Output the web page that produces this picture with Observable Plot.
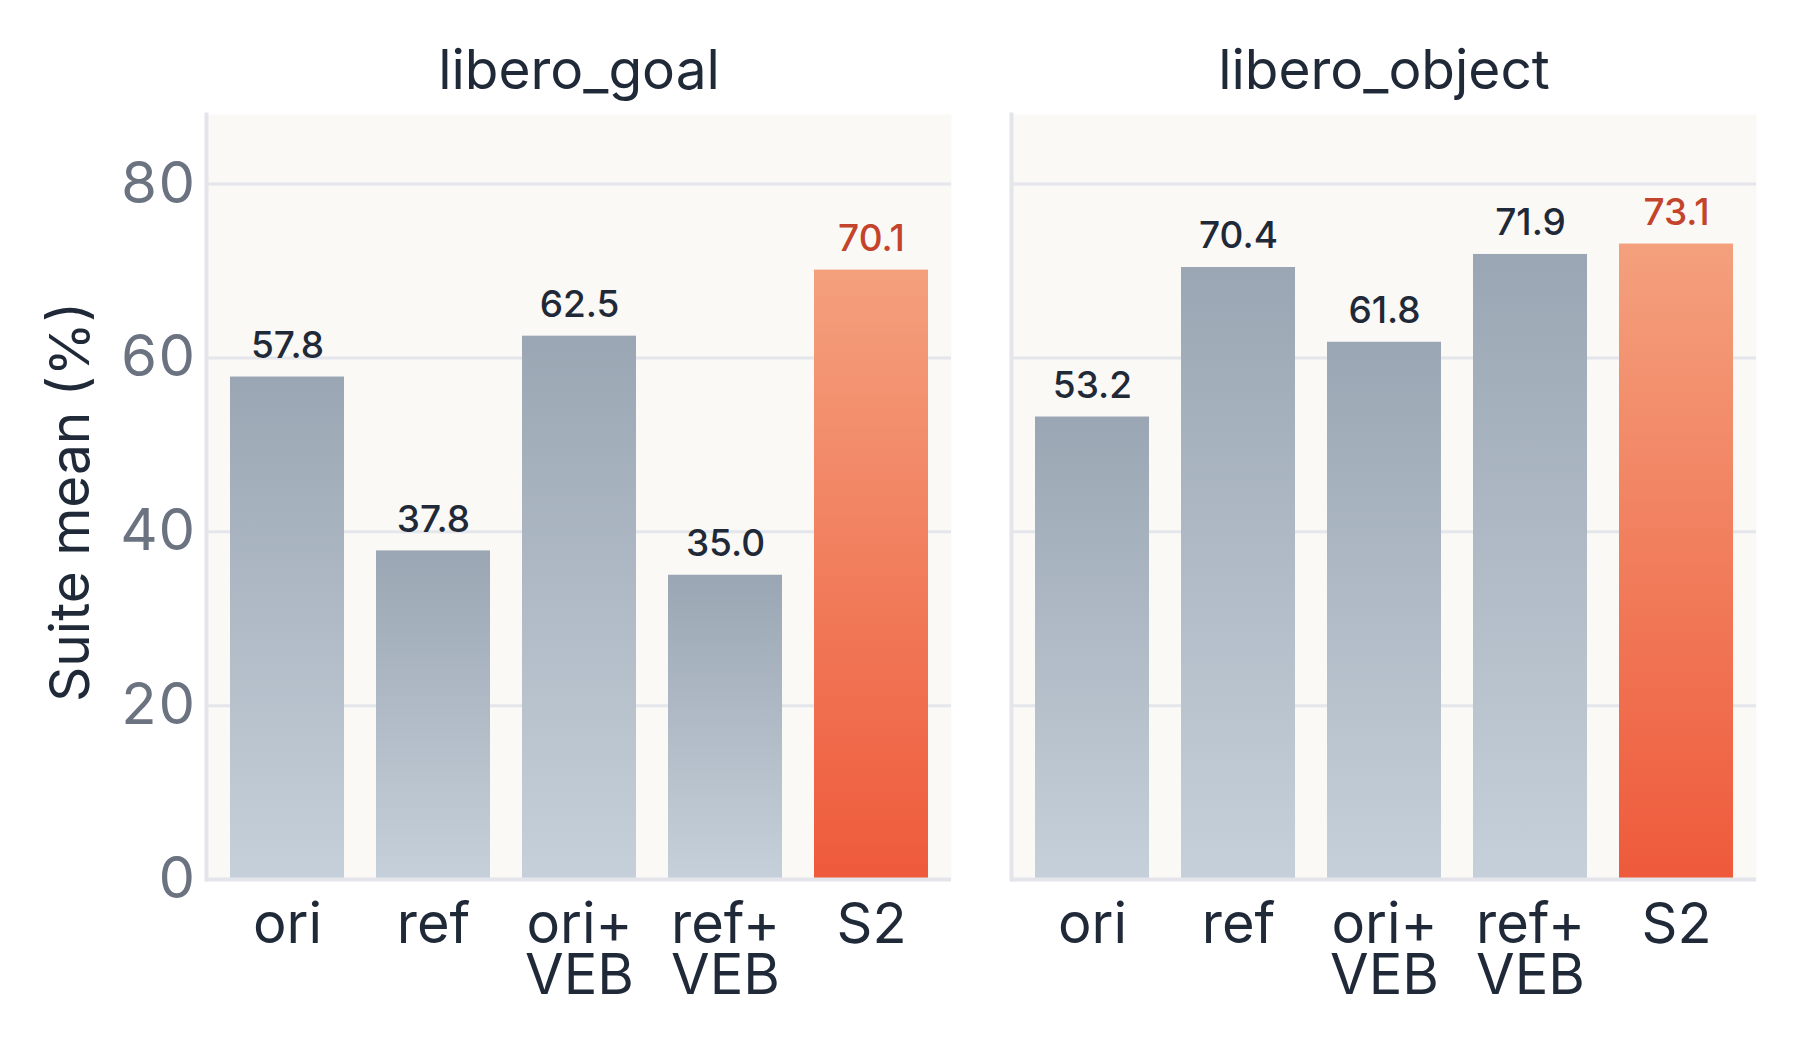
<!DOCTYPE html>
<html>
<head>
<meta charset="utf-8">
<script src="https://cdn.jsdelivr.net/npm/d3@7"></script>
<script src="https://cdn.jsdelivr.net/npm/@observablehq/plot@0.6"></script>
<style>
  html, body { margin: 0; padding: 0; background: #ffffff; }
  #chart svg { display: block; }
</style>
</head>
<body>
<div id="chart"></div>
<script>
const suites = ["libero_goal", "libero_object"];
const methods = ["ori", "ref", "ori+VEB", "ref+VEB", "S2"];
const methodLabels = ["ori", "ref", "ori+\nVEB", "ref+\nVEB", "S2"];
const goalValues = [57.8, 37.8, 62.5, 35.0, 70.1];
const objectValues = [53.2, 70.4, 61.8, 71.9, 73.1];
const yTicks = [0, 20, 40, 60, 80];
const highlight = "S2";

const seriesBySuite = [goalValues, objectValues];
const data = suites.flatMap((s, i) =>
  methods.map((m, j) => ({suite: s, method: m, value: seriesBySuite[i][j]}))
);
const labelOf = new Map(methods.map((m, i) => [m, methodLabels[i]]));

const font = "Inter, 'Noto Sans', sans-serif";

const chart = Plot.plot({
  width: 1800,
  height: 1049,
  marginLeft: 205,
  marginRight: 43,
  marginTop: 114,
  marginBottom: 170,
  style: {fontFamily: font, background: "#ffffff", overflow: "visible"},
  fx: {domain: suites, paddingInner: 0.074, paddingOuter: 0, axis: null},
  x: {domain: methods, paddingInner: 0.22, paddingOuter: 0.15, axis: null},
  y: {domain: [0, 88], axis: null},
  color: {type: "identity"},
  marks: [
    Plot.frame({fill: "#faf9f6", stroke: null}),
    Plot.gridY(yTicks, {stroke: "#e4e6ec", strokeWidth: 3, strokeOpacity: 1}),
    Plot.barY(data, {
      fx: "suite", x: "method", y: "value",
      fill: d => d.method === highlight ? "url(#barOrange)" : "url(#barGray)"
    }),
    Plot.frame({anchor: "left", stroke: "#e3e5eb", strokeWidth: 4}),
    Plot.ruleY([0], {stroke: "#e3e5eb", strokeWidth: 4}),
    Plot.axisY({
      ticks: yTicks, tickSize: 0, tickPadding: 11, fontSize: 58,
      color: "#6b7280", label: null, fontFamily: font
    }),
    Plot.axisX({
      anchor: "bottom", tickSize: 0, tickPadding: 27, fontSize: 56,
      lineHeight: 0.91, color: "#1f2937", label: null, fontFamily: font,
      tickFormat: d => labelOf.get(d)
    }),
    Plot.text(data, {
      fx: "suite", x: "method", y: "value",
      text: d => d.value.toFixed(1),
      fill: d => d.method === highlight ? "#c4432b" : "#1f2937",
      fontSize: 37, fontWeight: 500, dy: -31,
      lineAnchor: "middle"
    }),
    Plot.text(suites, {
      fx: d => d, text: d => d, frameAnchor: "top", lineAnchor: "middle",
      textAnchor: "middle",
      fontSize: 55, fill: "#1f2937", dy: -43
    }),
    Plot.text([suites[0]], {
      fx: d => d, text: () => "Suite mean (%)", frameAnchor: "left",
      textAnchor: "middle", lineAnchor: "middle",
      rotate: -90, fontSize: 55, fill: "#1f2937", dx: -135, dy: 5
    })
  ]
});

const svg = d3.select(chart);
const defs = svg.insert("defs", ":first-child");
const grads = [
  {id: "barGray", top: "#9aa6b3", bottom: "#c6d0da"},
  {id: "barOrange", top: "#f4a07d", bottom: "#ee5a3b"}
];
for (const g of grads) {
  const lg = defs.append("linearGradient").attr("id", g.id)
    .attr("x1", 0).attr("y1", 0).attr("x2", 0).attr("y2", 1);
  lg.append("stop").attr("offset", "0%").attr("stop-color", g.top);
  lg.append("stop").attr("offset", "100%").attr("stop-color", g.bottom);
}

document.getElementById("chart").appendChild(chart);
</script>
</body>
</html>
